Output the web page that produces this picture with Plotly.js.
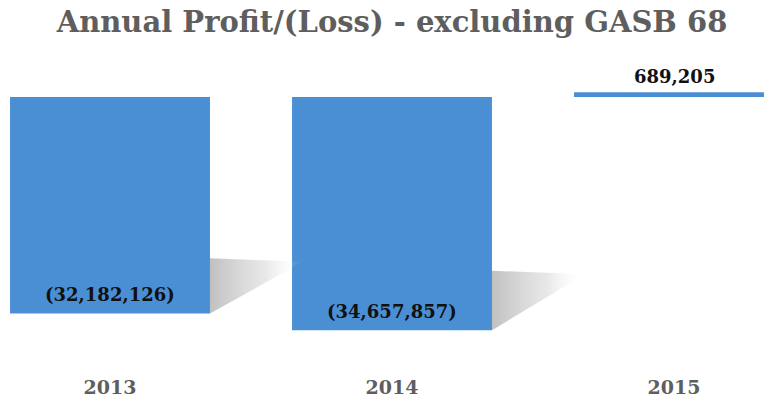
<!DOCTYPE html>
<html>
<head>
<meta charset="utf-8">
<script src="https://cdn.plot.ly/plotly-3.0.1.min.js"></script>
<style>html,body{margin:0;padding:0;background:#fff;}#chart{width:764px;height:400px;}</style>
</head>
<body>
<div id="chart"></div>
<script>
// ---- data ----
const years = ["2013", "2014", "2015"];
const profit = [-32182126, -34657857, 689205];

// ---- helpers ----
function fmt(v) {
  const s = Math.abs(v).toLocaleString('en-US');
  return v < 0 ? '(' + s + ')' : s;
}
const xIdx = years.map((_, i) => i);
const barWidth = 0.709;
const serif = "DejaVu Serif";

// decorative perspective shadows, derived from bar values
const shadows = [];
profit.forEach((v, i) => {
  if (v >= 0) return;
  const xr = i + barWidth / 2;
  const len = 0.33;
  shadows.push({
    type: 'scatter', mode: 'lines',
    x: [xr, xr + len, xr, xr],
    y: [v * 0.745, v * 0.76, v, v * 0.745],
    fill: 'toself',
    line: {width: 0, color: 'rgba(0,0,0,0)'},
    fillgradient: {
      type: 'horizontal',
      colorscale: [[0, 'rgba(150,150,150,0.6)'], [0.6, 'rgba(190,190,190,0.35)'], [1, 'rgba(255,255,255,0)']]
    },
    hoverinfo: 'skip', showlegend: false
  });
});

const bars = {
  type: 'bar',
  x: xIdx,
  y: profit,
  width: barWidth,
  marker: {color: '#4a8fd4', line: {width: 0}},
  hoverinfo: 'skip',
  showlegend: false
};

const annotations = profit.map((v, i) => ({
  x: i, y: v, xref: 'x', yref: 'y',
  text: fmt(v),
  showarrow: false,
  yanchor: v < 0 ? 'middle' : 'bottom',
  yshift: v < 0 ? 19 : 3,
  font: {family: serif, size: 18, color: '#111111', weight: 'bold'}
}));

const pxPerM = 6.73;
const plotTop = 60, plotBot = 374, zeroPx = 97;
const yTop = (zeroPx - plotTop) / pxPerM * 1e6;
const yBot = -(plotBot - zeroPx) / pxPerM * 1e6;

const layout = {
  width: 764, height: 400,
  margin: {l: 0, r: 0, t: plotTop, b: 400 - plotBot, pad: 0},
  paper_bgcolor: '#ffffff', plot_bgcolor: '#ffffff',
  title: {
    text: 'Annual Profit/(Loss) - excluding GASB 68',
    font: {family: serif, size: 29, color: '#5e5e5e', weight: 'bold'},
    x: 392 / 764, xanchor: 'center', xref: 'paper',
    y: 1 - 22 / 400, yanchor: 'middle', yref: 'container'
  },
  xaxis: {
    range: [-110 / 282, 654 / 282],
    tickvals: xIdx, ticktext: years,
    showgrid: false, zeroline: false, showline: false, ticks: '',
    tickfont: {family: serif, size: 19, color: '#5e5e5e', weight: 'bold'},
    fixedrange: true
  },
  yaxis: {
    range: [yBot, yTop],
    showgrid: false, zeroline: false, showline: false,
    showticklabels: false, ticks: '', fixedrange: true
  },
  annotations: annotations,
  showlegend: false
};

Plotly.newPlot('chart', shadows.concat([bars]), layout, {displayModeBar: false, staticPlot: true});
</script>
</body>
</html>
